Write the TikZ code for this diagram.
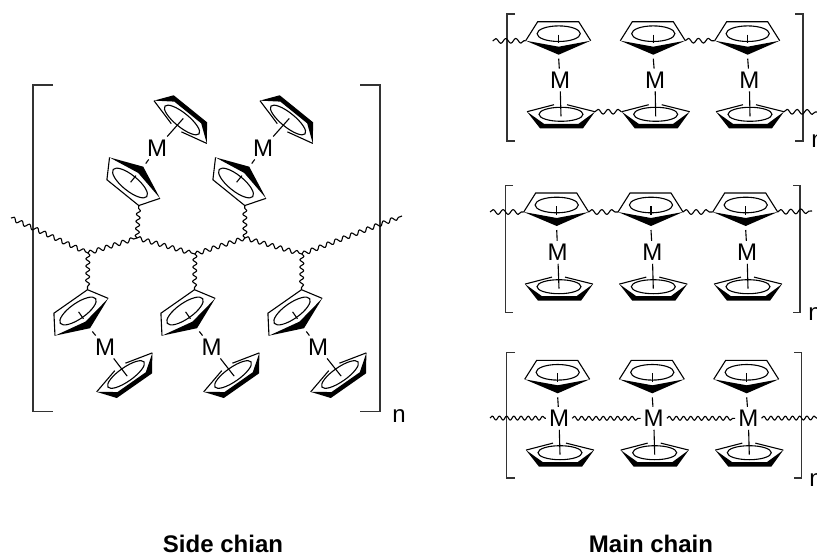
\documentclass[tikz,border=0pt]{standalone}
\usepackage{fontspec}
\setmainfont{Liberation Sans}
\usetikzlibrary{decorations,decorations.pathmorphing}
\tikzset{
  bond/.style={line width=1.1pt,line join=miter},
  bracket/.style={line width=1.3pt,color=black!80},
  wavy/.style={line width=1.1pt,line join=round,decorate,decoration={snake,segment length=8.5pt,amplitude=2.1pt}},
  wavyshort/.style={wavy,decoration={snake,segment length=7.2pt,amplitude=2pt}},
  wavylong/.style={wavy,decoration={snake,segment length=10pt,amplitude=2.4pt}},
  metal/.style={inner sep=3pt,font=\fontsize{24}{24}\selectfont},
  repeatn/.style={inner sep=0pt,font=\fontsize{24}{24}\selectfont},
  caption/.style={inner sep=0pt,font=\fontsize{24}{26}\selectfont\bfseries},
  cptop/.pic={
    \fill (-33,7) -- (0,13) -- (32,7) -- (0,21) -- cycle;
    \draw[bond] (-33,7) -- (-21,-12) -- (20,-12) -- (32,7);
    \draw[bond] (0,0) ellipse [x radius=21.6pt,y radius=7.8pt];
    \draw[bond] (0,1) -- (0,9.5);
    \coordinate (-left) at (-33,7);
    \coordinate (-right) at (32,7);
    \coordinate (-tl) at (-21,-12);
    \coordinate (-tr) at (20,-12);
    \coordinate (-tip) at (0,25);
  },
  cpbot/.pic={
    \fill (-34,-2.6) -- (-21,14) -- (22,14) -- (34,-2.6) -- (17.5,9.5) -- (-17,9.5) -- cycle;
    \draw[bond] (-34,-2.6) -- (-7,-9.6);
    \draw[bond] (6,-9.6) -- (34,-2.6);
    \draw[bond] (0,0) ellipse [x radius=22pt,y radius=7pt];
    \coordinate (-left) at (-34,-2.6);
    \coordinate (-right) at (34,-2.6);
    \coordinate (-hub) at (0,2);
  },
}
\begin{document}
\begin{tikzpicture}[x=1pt,y=-1pt]
  \useasboundingbox (0,0) rectangle (817,554);
  % side chain
  \draw[bracket] (53,85) -- (33,85) -- (33,411.5) -- (53,411.5);
  \draw[bracket] (360,85) -- (380,85) -- (380,411.5) -- (360,411.5);
  \node[repeatn] (Sn) at (399,416) {n};
  \pic[rotate=141] (Sa) at (130,183) {cptop};
  \pic[rotate=141] (Sb) at (236,183) {cptop};
  \pic[rotate=141] (Sc) at (182,120) {cpbot};
  \pic[rotate=141] (Sd) at (288,120) {cpbot};
  \node[metal] (Ma) at (157,148) {M};
  \node[metal] (Mb) at (263,148) {M};
  \draw[bond] (Sa-tip) -- (Ma);
  \draw[bond] (Sb-tip) -- (Mb);
  \draw[bond] (Ma) -- (Sc-hub);
  \draw[bond] (Mb) -- (Sd-hub);
  \pic[rotate=35] (Se) at (78,311) {cptop};
  \pic[rotate=35] (Sf) at (185,311) {cptop};
  \pic[rotate=35] (Sg) at (292,311) {cptop};
  \pic[rotate=35] (Sh) at (126,374.5) {cpbot};
  \pic[rotate=35] (Si) at (233,374.5) {cpbot};
  \pic[rotate=35] (Sj) at (340,374.5) {cpbot};
  \node[metal] (Mc) at (105,347) {M};
  \node[metal] (Md) at (211.5,347) {M};
  \node[metal] (Me) at (318,347) {M};
  \draw[bond] (Se-tip) -- (Mc);
  \draw[bond] (Sf-tip) -- (Md);
  \draw[bond] (Sg-tip) -- (Me);
  \draw[bond] (Mc) -- (Sh-hub);
  \draw[bond] (Md) -- (Si-hub);
  \draw[bond] (Me) -- (Sj-hub);
  % backbone
  \coordinate (J0) at (11,218);
  \coordinate (J1) at (88,253);
  \coordinate (J2) at (137,238);
  \coordinate (J3) at (195,254);
  \coordinate (J4) at (245,238);
  \coordinate (J5) at (302,254);
  \coordinate (J6) at (402,216);
  \draw[wavy] (J0) -- (J1);
  \draw[wavy] (J1) -- (J2);
  \draw[wavy] (J2) -- (J3);
  \draw[wavy] (J3) -- (J4);
  \draw[wavy] (J4) -- (J5);
  \draw[wavy] (J5) -- (J6);
  \draw[wavyshort] (J2) -- (Sa-tl);
  \draw[wavyshort] (J4) -- (Sb-tl);
  \draw[wavyshort] (J1) -- (Se-tr);
  \draw[wavyshort] (J3) -- (Sf-tr);
  \draw[wavyshort] (J5) -- (Sg-tr);
  % first main chain
  \draw[bracket] (515,14) -- (507,14) -- (507,141) -- (515,141);
  \draw[bracket] (795,14) -- (803,14) -- (803,141) -- (795,141);
  \node[repeatn] (An) at (818,141.5) {n};
  \pic (At) at (558.7,33.7) {cptop};
  \pic (Bt) at (653.3,33.7) {cptop};
  \pic (Ct) at (747.7,33.7) {cptop};
  \pic (Ab) at (561,114.3) {cpbot};
  \pic (Bb) at (655.7,114.3) {cpbot};
  \pic (Cb) at (750,114.3) {cpbot};
  \node[metal] (AM) at (560,80) {M};
  \node[metal] (BM) at (655,80) {M};
  \node[metal] (CM) at (749.3,80) {M};
  \draw[bond] (At-tip) -- (AM);
  \draw[bond] (Bt-tip) -- (BM);
  \draw[bond] (Ct-tip) -- (CM);
  \draw[bond] (AM) -- (Ab-hub);
  \draw[bond] (BM) -- (Bb-hub);
  \draw[bond] (CM) -- (Cb-hub);
  \coordinate (Ae) at (492.7,41);
  \coordinate (Ce) at (817,112);
  \draw[wavylong] (Ae) -- (At-left);
  \draw[wavylong] (Bt-right) -- (Ct-left);
  \draw[wavylong] (Ab-right) -- (Bb-left);
  \draw[wavylong] (Cb-right) -- (Ce);
  % second main chain
  \draw[bracket] (513,185.7) -- (505.7,185.7) -- (505.7,312.7) -- (513,312.7);
  \draw[bracket] (793,185.7) -- (800,185.7) -- (800,312.7) -- (793,312.7);
  \node[repeatn] (Dn) at (815,314) {n};
  \pic (Dt) at (556.7,205) {cptop};
  \pic (Et) at (651,205) {cptop};
  \pic (Ft) at (745.7,205) {cptop};
  \pic (Db) at (559,286.7) {cpbot};
  \pic (Eb) at (653.3,286.7) {cpbot};
  \pic (Fb) at (748,286.7) {cpbot};
  \node[metal] (DM) at (557.7,252.3) {M};
  \node[metal] (EM) at (652.3,252.3) {M};
  \node[metal] (FM) at (747,252.3) {M};
  \draw[bond] (Dt-tip) -- (DM);
  \draw[bond] (Et-tip) -- (EM);
  \draw[bond] (Ft-tip) -- (FM);
  \draw[bond] (DM) -- (Db-hub);
  \draw[bond] (EM) -- (Eb-hub);
  \draw[bond] (FM) -- (Fb-hub);
  \coordinate (De) at (490,212);
  \coordinate (Fe) at (812,211);
  \draw[wavylong] (De) -- (Dt-left);
  \draw[wavylong] (Dt-right) -- (Et-left);
  \draw[wavylong] (Et-right) -- (Ft-left);
  \draw[wavylong] (Ft-right) -- (Fe);
  % third main chain
  \draw[bracket] (515,352.7) -- (506.7,352.7) -- (506.7,478) -- (515,478);
  \draw[bracket] (794,352.7) -- (801.7,352.7) -- (801.7,478) -- (794,478);
  \node[repeatn] (Gn) at (816,480) {n};
  \pic (Gt) at (557.7,372.3) {cptop};
  \pic (Ht) at (652.3,372.3) {cptop};
  \pic (It) at (746.7,372.3) {cptop};
  \pic (Gb) at (560,452.7) {cpbot};
  \pic (Hb) at (654.7,452.7) {cpbot};
  \pic (Ib) at (749.3,452.7) {cpbot};
  \node[metal] (GM) at (559,418.3) {M};
  \node[metal] (HM) at (653.7,418.3) {M};
  \node[metal] (IM) at (748.3,418.3) {M};
  \draw[bond] (Gt-tip) -- (GM);
  \draw[bond] (Ht-tip) -- (HM);
  \draw[bond] (It-tip) -- (IM);
  \draw[bond] (GM) -- (Gb-hub);
  \draw[bond] (HM) -- (Hb-hub);
  \draw[bond] (IM) -- (Ib-hub);
  \coordinate (Ge) at (490,418);
  \coordinate (Ie) at (817,418);
  \draw[wavyshort] (Ge) -- (GM);
  \draw[wavyshort] (GM) -- (HM);
  \draw[wavyshort] (HM) -- (IM);
  \draw[wavyshort] (IM) -- (Ie);
  % captions
  \node[caption] (side) at (223,544) {Side chian};
  \node[caption] (main) at (651,544) {Main chain};
\end{tikzpicture}
\end{document}
